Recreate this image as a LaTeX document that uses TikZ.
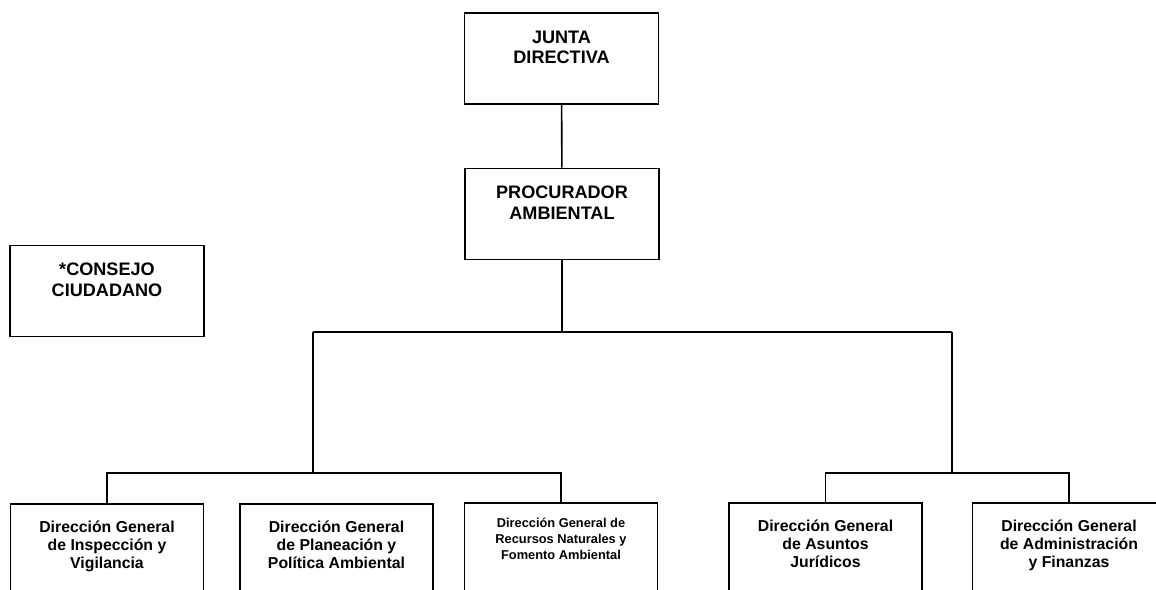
\documentclass[tikz,border=0pt]{standalone}
\usepackage{fontspec}
\setmainfont{Liberation Sans}
\usetikzlibrary{shapes}
\tikzstyle{block} = [rectangle, draw, line width=0.9pt, inner sep=0pt]
\tikzstyle{alta} = [block, minimum width=3.88cm, minimum height=1.82cm]
\tikzstyle{baja} = [block, minimum width=3.86cm, minimum height=3cm]
\tikzstyle{rotulo} = [align=center, anchor=north, inner sep=0pt, yshift=-0.36cm, font=\fontsize{10.3}{11.8}\selectfont\bfseries]
\tikzstyle{rotulob} = [align=center, anchor=north, inner sep=0pt, yshift=-0.34cm, font=\fontsize{9}{10.3}\selectfont\bfseries]
\tikzstyle{rotuloc} = [rotulob, yshift=0.02cm, font=\fontsize{7.3}{9.1}\selectfont\bfseries]
\tikzstyle{line} = [draw, line width=0.9pt]

\begin{document}
\begin{tikzpicture}[x=0.02cm, y=-0.02cm]
\useasboundingbox (0,0) rectangle (1156,590);
\clip (0,0) rectangle (1156,590);

\node [alta, label={[rotulo]north:JUNTA\\DIRECTIVA}] (jd) at (561.5,58.5) {};
\node [alta, label={[rotulo]north:PROCURADOR\\AMBIENTAL}] (pa) at (562,214) {};
\path [line] (jd) -- (pa);

\node [alta, label={[rotulo]north:*CONSEJO\\CIUDADANO}] (cc) at (107,291) {};

\node [baja, label={[rotulob]north:Dirección General\\de Inspección y\\Vigilancia}] (d1) at (107,579) {};
\node [baja, label={[rotulob]north:Dirección General\\de Planeación y\\Política Ambiental}] (d2) at (336.5,579) {};
\node [baja, label={[rotuloc]north:Dirección General de\\Recursos Naturales y\\Fomento Ambiental}] (d3) at (561,578) {};
\node [baja, label={[rotulob]north:Dirección General\\de Asuntos\\Jurídicos}] (d4) at (825.5,578) {};
\node [baja, label={[rotulob]north:Dirección General\\de Administración\\y Finanzas}] (d5) at (1069,578) {};

\coordinate (bus) at (555,332);
\coordinate (bl) at (313,332);
\coordinate (br) at (952,332);
\coordinate (cl) at (313,473);
\coordinate (cr) at (952,473);

\path [line] (pa.south) -- (pa.south |- bus);
\path [line] (bl) -- (br);
\path [line] (bl) -- (cl);
\path [line] (br) -- (cr);
\path [line] (d1.north) |- (cl) -| (d3.north);
\path [line] (d4.north) |- (cr) -| (d5.north);
\end{tikzpicture}
\end{document}
